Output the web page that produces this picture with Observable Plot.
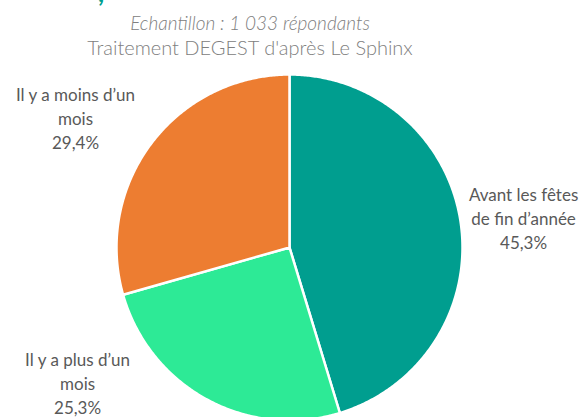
<!DOCTYPE html>
<html>
<head>
<meta charset="utf-8">
<script src="https://cdn.jsdelivr.net/npm/d3@7"></script>
<script src="https://cdn.jsdelivr.net/npm/@observablehq/plot@0.6"></script>
<style>
  html, body { margin: 0; padding: 0; background: #fff; }
  body { width: 586px; height: 417px; overflow: hidden; position: relative; font-family: Lato, "Open Sans", sans-serif; }
  #frag { position: absolute; left: 98px; top: -24px; color: #009e8e; font: bold 26px Lato, sans-serif; }
  #sub { width: 500px; text-align: center; color: #808080; padding-top: 10px; height: 52px; }
  #sub .l1 { font-style: italic; font-weight: 300; font-size: 19px; height: 25px; line-height: 25px; }
  #sub .l2 { font-weight: 300; font-size: 20px; height: 25px; line-height: 25px; }
  #chart svg { display: block; }
</style>
</head>
<body>
<div id="frag">,</div>
<div id="sub">
  <div class="l1">Echantillon : 1 033 répondants</div>
  <div class="l2">Traitement DEGEST d'après Le Sphinx</div>
</div>
<div id="chart"></div>
<script>
// ---- data ----
const categories = ["Avant les fêtes de fin d’année", "Il y a plus d’un mois", "Il y a moins d’un mois"];
const labelLines = ["Avant les fêtes\nde fin d’année", "Il y a plus d’un\nmois", "Il y a moins d’un\nmois"];
const shares = [45.3, 25.3, 29.4];
const valueLabels = ["45,3%", "25,3%", "29,4%"];
const colors = ["#009e8f", "#2dea96", "#ed7d31"];

// ---- layout (unit-circle coordinates, radius = 1) ----
const labelPos = [[1.353, 0.173], [-1.225, -0.78], [-1.237, 0.751]];
const W = 586, H = 355, R = 173, CX = 289, CY = 185;

// build slice polygons from the shares (start at 12 o'clock, clockwise)
const total = d3.sum(shares);
const pie = [];
let acc = 0;
shares.forEach((v, i) => {
  const a0 = acc / total * 2 * Math.PI;
  acc += v;
  const a1 = acc / total * 2 * Math.PI;
  const n = Math.max(2, Math.ceil((a1 - a0) / (Math.PI / 360)));
  pie.push({cat: categories[i], x: 0, y: 0});
  for (let k = 0; k <= n; k++) {
    const a = a0 + (a1 - a0) * k / n;
    pie.push({cat: categories[i], x: Math.sin(a), y: Math.cos(a)});
  }
});

const labels = categories.map((c, i) => ({
  cat: c, text: labelLines[i] + "\n" + valueLabels[i], x: labelPos[i][0], y: labelPos[i][1]
}));

const chart = Plot.plot({
  width: W,
  height: H,
  margin: 0,
  x: {domain: [-CX / R, (W - CX) / R], range: [0, W], axis: null},
  y: {domain: [-(H - CY) / R, CY / R], range: [H, 0], axis: null},
  color: {domain: categories, range: colors},
  style: {background: "white", overflow: "visible"},
  marks: [
    Plot.line(pie, {x: "x", y: "y", z: "cat", fill: "cat", stroke: "white", strokeWidth: 2.5, curve: "linear-closed", strokeLinejoin: "round"}),
    Plot.text(labels, {x: "x", y: "y", text: "text", fill: "#595959", fontSize: 17, lineHeight: 1.42, fontFamily: "Lato, 'Open Sans', sans-serif", textAnchor: "middle"})
  ]
});
document.getElementById("chart").append(chart);
</script>
</body>
</html>
